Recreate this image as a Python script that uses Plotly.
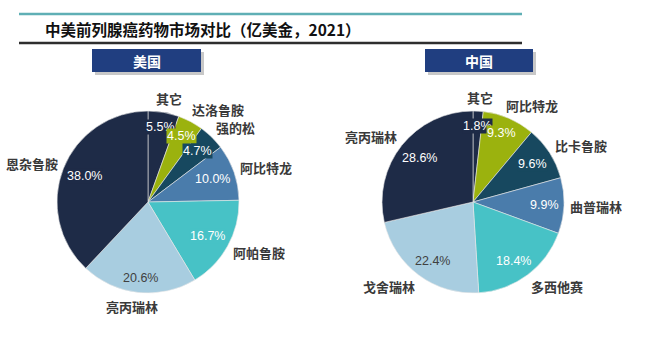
import math
import plotly.graph_objects as go

W, H = 650, 351

title_text = "中美前列腺癌药物市场对比（亿美金，2021）"

us_title = "美国"
us_labels = ["其它", "达洛鲁胺", "强的松", "阿比特龙", "阿帕鲁胺", "亮丙瑞林", "恩杂鲁胺"]
us_values = [5.5, 4.5, 4.7, 10.0, 16.7, 20.6, 38.0]

cn_title = "中国"
cn_labels = ["其它", "阿比特龙", "比卡鲁胺", "曲普瑞林", "多西他赛", "戈舍瑞林", "亮丙瑞林"]
cn_values = [1.8, 9.3, 9.6, 9.9, 18.4, 22.4, 28.6]

NAVY = "#1E2B47"
OLIVE = "#9BB20E"
DTEAL = "#17485F"
STEEL = "#4A7CAB"
TURQ = "#47C2C6"
LBLUE = "#A8CDE0"
slice_colors = [NAVY, OLIVE, DTEAL, STEEL, TURQ, LBLUE, NAVY]
pct_text_colors = ["white", "white", "white", "white", "white", "#404040", "white"]

R = 91
CY = 202
centers_x = [148, 473]

fig = go.Figure()
annotations = []
shapes = []


def px(x):
    return x / W


def py(y):
    return 1 - y / H


def pct_width(s):
    w = 0
    for ch in s:
        if ch.isdigit():
            w += 6.67
        elif ch == ".":
            w += 3.33
        elif ch == "%":
            w += 10.67
    return w


def clamp(v):
    return max(-1.0, min(1.0, v))


for cx, labels, values, name in [(centers_x[0], us_labels, us_values, "us"),
                                  (centers_x[1], cn_labels, cn_values, "cn")]:
    fig.add_trace(go.Pie(
        labels=labels, values=values, sort=False, direction="clockwise",
        rotation=0, textinfo="none", hoverinfo="label+percent",
        marker=dict(colors=slice_colors, line=dict(color="#E8E8E8", width=0.6)),
        domain=dict(x=[px(cx - R), px(cx + R)], y=[py(CY + R), py(CY - R)]),
        showlegend=False, name=name,
    ))
    total = sum(values)
    cum = 0.0
    for i, (lab, val) in enumerate(zip(labels, values)):
        mid = (cum + val / 2) / total * 2 * math.pi
        cum += val
        s, c = math.sin(mid), -math.cos(mid)
        # percentage label (inside end)
        ptxt = f"{val:.1f}%"
        hw = pct_width(ptxt) / 2 + 2
        hh = 11
        r_in = R - 4
        x = cx + r_in * s - hw * s
        y = CY + r_in * c - hh * clamp(1.5 * c)
        annotations.append(dict(
            x=px(x), y=py(y), xref="paper", yref="paper", text=ptxt,
            showarrow=False, xanchor="center", yanchor="middle",
            font=dict(family="Liberation Sans", size=12.5, color=pct_text_colors[i]),
            bgcolor=slice_colors[i], borderpad=0,
        ))
        # category label (outside end)
        lw = len(lab) * 13 / 2
        lh = 8
        r_out = R + 6
        x = cx + r_out * s + lw * clamp(2 * s)
        y = CY + r_out * c + lh * c
        annotations.append(dict(
            x=px(x), y=py(y), xref="paper", yref="paper", text=lab,
            showarrow=False, xanchor="center", yanchor="middle", height=15,
            font=dict(family="Noto Sans CJK SC", size=13, color="#3A3A3A", weight="bold"),
        ))

# header lines
shapes.append(dict(type="line", xref="paper", yref="paper", x0=px(19), x1=px(522),
                   y0=py(14), y1=py(14), line=dict(color="#5FAFB5", width=2.5)))
shapes.append(dict(type="line", xref="paper", yref="paper", x0=px(19), x1=px(522),
                   y0=py(43), y1=py(43), line=dict(color="#2E2E2E", width=2.5)))
annotations.append(dict(
    x=px(43), y=py(29), xref="paper", yref="paper", text=title_text, showarrow=False,
    xanchor="left", yanchor="middle",
    font=dict(family="Noto Sans CJK SC", size=15.5, color="#111111", weight="bold"),
))

# country boxes
for (x0, x1), t in [((92, 201), us_title), ((425, 533), cn_title)]:
    shapes.append(dict(type="rect", xref="paper", yref="paper", x0=px(x0 + 3), x1=px(x1 + 3),
                       y0=py(75), y1=py(52), fillcolor="#C8C8C8", line=dict(width=0), layer="above"))
    shapes.append(dict(type="rect", xref="paper", yref="paper", x0=px(x0), x1=px(x1),
                       y0=py(72), y1=py(49), fillcolor="#203E80", line=dict(width=0), layer="above"))
    annotations.append(dict(
        x=px((x0 + x1) / 2), y=py(61), xref="paper", yref="paper", text=t, showarrow=False,
        xanchor="center", yanchor="middle",
        font=dict(family="Noto Sans CJK SC", size=14, color="white", weight="bold"),
    ))

fig.update_layout(
    width=W, height=H, margin=dict(l=0, r=0, t=0, b=0),
    paper_bgcolor="white", plot_bgcolor="white",
    shapes=shapes, annotations=annotations,
)

fig.write_html("out.html")
